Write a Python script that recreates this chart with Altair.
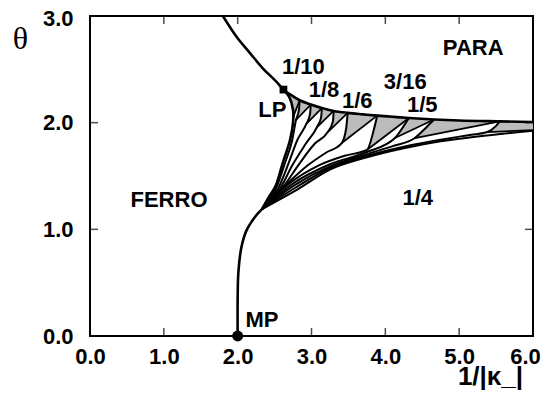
import altair as alt
import pandas as pd

FONT = "Liberation Sans"

# ---------------- data (x = 1/|kappa_|, y = theta) ----------------
# paramagnetic boundary (from top edge, through LP, to right edge)
para_x = [1.80, 1.99, 2.17, 2.34, 2.53, 2.62, 2.72, 2.84, 2.99, 3.14, 3.30, 3.49, 3.70, 3.89, 4.10, 4.32, 4.66, 5.00, 5.55, 6.00]
para_y = [3.00, 2.80, 2.65, 2.51, 2.38, 2.31, 2.26, 2.21, 2.17, 2.137, 2.11, 2.092, 2.078, 2.066, 2.055, 2.044, 2.03, 2.02, 2.012, 2.006]

# ferro boundary from MP up to the point where the fan starts
ferro_x = [2.00, 2.00, 2.01, 2.05, 2.12, 2.25, 2.33]
ferro_y = [0.00, 0.35, 0.60, 0.83, 0.99, 1.13, 1.19]

# ferro boundary from fan point up to LP
ferro_left_x = [2.33, 2.42, 2.51, 2.61, 2.71, 2.75, 2.75, 2.70, 2.62]
ferro_left_y = [1.19, 1.30, 1.40, 1.62, 1.84, 2.00, 2.12, 2.24, 2.31]

# fan of commensurate phase boundaries (fan point -> junction -> tip on para line)
fan_lines = {
    "f1": ([2.33, 2.53, 2.64, 2.74, 2.79, 2.83, 2.84], [1.19, 1.40, 1.62, 1.84, 2.025, 2.12, 2.21]),
    "f2": ([2.33, 2.56, 2.69, 2.81, 2.93, 2.98, 2.99], [1.19, 1.40, 1.62, 1.84, 1.988, 2.08, 2.17]),
    "f3": ([2.33, 2.59, 2.74, 2.92, 3.075, 3.13, 3.14], [1.19, 1.40, 1.60, 1.80, 1.959, 2.05, 2.137]),
    "f4": ([2.33, 2.62, 2.82, 3.04, 3.22, 3.29, 3.30], [1.19, 1.40, 1.60, 1.80, 1.912, 2.01, 2.11]),
    "f5": ([2.33, 2.66, 2.95, 3.20, 3.41, 3.47, 3.49], [1.19, 1.42, 1.60, 1.72, 1.809, 1.95, 2.092]),
    "f6": ([2.33, 2.70, 3.10, 3.45, 3.75, 3.85, 3.89], [1.19, 1.43, 1.60, 1.69, 1.744, 1.95, 2.066]),
    "f7": ([2.33, 2.73, 3.25, 3.75, 4.13, 4.25, 4.32], [1.19, 1.42, 1.61, 1.725, 1.856, 1.97, 2.044]),
    "f8": ([2.33, 2.76, 3.25, 3.75, 4.10, 4.40, 4.56, 4.66], [1.19, 1.41, 1.59, 1.705, 1.78, 1.856, 1.96, 2.03]),
    "f9": ([2.33, 2.78, 3.25, 3.75, 4.25, 4.75, 5.10, 5.38, 5.50, 5.55], [1.19, 1.39, 1.575, 1.69, 1.775, 1.84, 1.88, 1.912, 1.97, 2.012]),
    "f10": ([2.33, 2.80, 3.25, 3.75, 4.25, 4.75, 5.25, 6.00], [1.19, 1.37, 1.56, 1.675, 1.76, 1.825, 1.87, 1.925]),
}

# upper edges of the tongues: junction -> next tip
junction_x = [2.75, 2.79, 2.93, 3.075, 3.22, 3.41, 3.75, 4.13, 4.40, 5.38]
junction_y = [2.05, 2.025, 1.988, 1.959, 1.912, 1.809, 1.744, 1.856, 1.856, 1.912]
tip_x = [2.84, 2.99, 3.14, 3.30, 3.49, 3.89, 4.32, 4.66, 5.55, 6.00]
tip_y = [2.21, 2.17, 2.137, 2.11, 2.092, 2.066, 2.044, 2.03, 2.012, 1.93]

# shaded (incommensurate) pockets between the tongues
shaded = {
    "s0": ([2.75, 2.75, 2.70, 2.62, 2.72, 2.84], [2.05, 2.12, 2.24, 2.31, 2.26, 2.21]),
    "s1": ([2.79, 2.83, 2.84, 2.99], [2.025, 2.12, 2.21, 2.17]),
    "s2": ([2.93, 2.98, 2.99, 3.14], [1.988, 2.08, 2.17, 2.137]),
    "s3": ([3.075, 3.13, 3.14, 3.30], [1.959, 2.05, 2.137, 2.11]),
    "s4": ([3.22, 3.29, 3.30, 3.49], [1.912, 2.01, 2.11, 2.092]),
    "s5": ([3.41, 3.47, 3.49, 3.70, 3.89], [1.809, 1.95, 2.092, 2.078, 2.066]),
    "s6": ([3.75, 3.85, 3.89, 4.10, 4.32], [1.744, 1.95, 2.066, 2.055, 2.044]),
    "s7": ([4.13, 4.25, 4.32, 4.66], [1.856, 1.97, 2.044, 2.03]),
    "s8": ([4.40, 4.56, 4.66, 5.00, 5.55], [1.856, 1.96, 2.03, 2.02, 2.012]),
    "s9": ([5.38, 5.50, 5.55, 6.00, 6.00], [1.912, 1.97, 2.012, 2.006, 1.93]),
}

mp_x, mp_y = [2.00], [0.00]
lp_x, lp_y = [2.62], [2.31]

label_text = ["PARA", "FERRO", "LP", "MP", "1/10", "1/8", "1/6", "3/16", "1/5", "1/4"]
label_x = [5.19, 1.07, 2.47, 2.33, 2.89, 3.17, 3.62, 4.27, 4.50, 4.44]
label_y = [2.70, 1.275, 2.12, 0.15, 2.52, 2.31, 2.20, 2.38, 2.17, 1.29]

axis_x_values = [0, 1, 2, 3, 4, 5, 6]
axis_y_values = [0, 1, 2, 3]
inner_tick_x = [1, 2, 3, 4, 5]
inner_tick_y = [1, 2]


# ---------------- frames ----------------
def long_df(groups):
    rows = []
    for gid, (xs_, ys_) in groups.items():
        for i, (a, b) in enumerate(zip(xs_, ys_)):
            rows.append({"id": gid, "ord": i, "x": a, "y": b})
    return pd.DataFrame(rows)


para_df = long_df({"para": (para_x, para_y)})
ferro_df = long_df({"ferro": (ferro_x, ferro_y), "ferro_left": (ferro_left_x, ferro_left_y)})
fan_df = long_df(fan_lines)
seg_df = long_df({f"L{i}": ([junction_x[i], tip_x[i]], [junction_y[i], tip_y[i]]) for i in range(len(tip_x))})
shade_df = long_df(shaded)
mp_df = pd.DataFrame({"x": mp_x, "y": mp_y})
lp_df = pd.DataFrame({"x": lp_x, "y": lp_y})
lab_df = pd.DataFrame({"x": label_x, "y": label_y, "t": label_text})
tb_df = pd.DataFrame({"x": inner_tick_x, "y": [0] * len(inner_tick_x)})
tt_df = pd.DataFrame({"x": inner_tick_x, "y": [3] * len(inner_tick_x)})
tl_df = pd.DataFrame({"x": [0] * len(inner_tick_y), "y": inner_tick_y})
tr_df = pd.DataFrame({"x": [6] * len(inner_tick_y), "y": inner_tick_y})

xs = alt.Scale(domain=[0, 6], nice=False, zero=False)
ys = alt.Scale(domain=[0, 3], nice=False, zero=False)

xaxis = alt.Axis(values=axis_x_values, format=".1f", ticks=False, tickSize=0, domain=False, grid=False,
                 labelFont=FONT, labelFontSize=22, labelFontWeight="bold", labelColor="black",
                 labelPadding=10, labelFlush=False, labelOverlap=False,
                 labelOffset={"condition": {"test": "datum.value == 6", "value": -8}, "value": 0},
                 title="1/|κ_|", titleFont=FONT, titleFontSize=26, titleFontWeight="bold",
                 titleColor="black", titleX=400, titleY=40, titleAlign="center", titleBaseline="middle")
yaxis = alt.Axis(values=axis_y_values, format=".1f", ticks=False, tickSize=0, domain=False, grid=False,
                 labelFont=FONT, labelFontSize=22, labelFontWeight="bold", labelColor="black",
                 labelPadding=17, labelFlush=False, labelOverlap=False,
                 labelOffset={"condition": {"test": "datum.value == 3", "value": 2}, "value": 0},
                 title="θ", titleFont="Liberation Serif", titleFontSize=32, titleFontWeight="normal",
                 titleColor="black", titleAngle=0, titleX=-70, titleY=22, titleAlign="center",
                 titleBaseline="middle")


def X():
    return alt.X("x:Q", scale=xs, axis=xaxis)


def Y():
    return alt.Y("y:Q", scale=ys, axis=yaxis)


shade = alt.Chart(shade_df).mark_line(filled=True, color="#bcbcbc", interpolate="linear").encode(
    x=X(), y=Y(), detail="id:N", order="ord:Q")
fan = alt.Chart(fan_df).mark_line(color="black", strokeWidth=2, interpolate="monotone", clip=True).encode(
    x=X(), y=Y(), detail="id:N", order="ord:Q")
segs = alt.Chart(seg_df).mark_line(color="black", strokeWidth=1.8, clip=True).encode(
    x=X(), y=Y(), detail="id:N", order="ord:Q")
ferro = alt.Chart(ferro_df).mark_line(color="black", strokeWidth=2.6, interpolate="catmull-rom", clip=True).encode(
    x=X(), y=Y(), detail="id:N", order="ord:Q")
para = alt.Chart(para_df).mark_line(color="black", strokeWidth=2.6, interpolate="monotone", clip=True).encode(
    x=X(), y=Y(), detail="id:N", order="ord:Q")
mp = alt.Chart(mp_df).mark_circle(size=120, color="black", opacity=1).encode(x=X(), y=Y())
lp = alt.Chart(lp_df).mark_square(size=60, color="black", opacity=1).encode(x=X(), y=Y())
labels = alt.Chart(lab_df).mark_text(font=FONT, fontSize=22, fontWeight="bold", color="black",
                                     align="center", baseline="middle").encode(x=X(), y=Y(), text="t:N")
tick_b = alt.Chart(tb_df).mark_tick(orient="vertical", size=8, thickness=1.5, color="black", yOffset=-4).encode(x=X(), y=Y())
tick_t = alt.Chart(tt_df).mark_tick(orient="vertical", size=8, thickness=1.5, color="black", yOffset=4).encode(x=X(), y=Y())
tick_l = alt.Chart(tl_df).mark_tick(orient="horizontal", size=8, thickness=1.5, color="black", xOffset=4).encode(x=X(), y=Y())
tick_r = alt.Chart(tr_df).mark_tick(orient="horizontal", size=8, thickness=1.5, color="black", xOffset=-4).encode(x=X(), y=Y())

chart = alt.layer(shade, fan, segs, ferro, para, tick_b, tick_t, tick_l, tick_r, mp, lp, labels).properties(
    width=443, height=320,
    autosize=alt.AutoSizeParams(type="none"),
    padding={"left": 82, "top": 8, "right": 8, "bottom": 54},
    background="white",
).configure_view(stroke="black", strokeWidth=2)

chart.save("out.html", embed_options={"renderer": "svg", "actions": False})
